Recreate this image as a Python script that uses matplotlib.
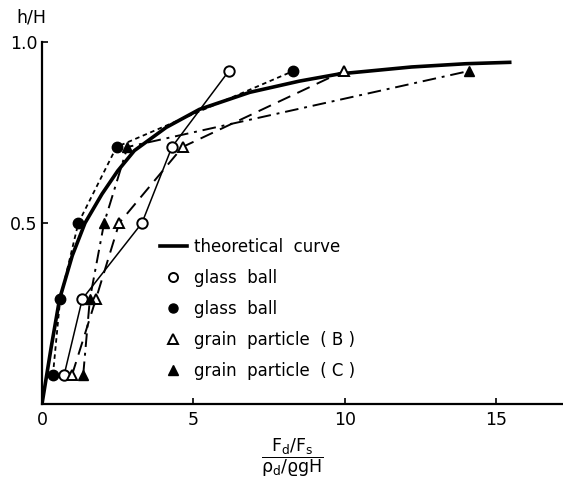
import matplotlib
matplotlib.use("Agg")
import matplotlib.pyplot as plt
from matplotlib.lines import Line2D

plt.rcParams['font.family'] = ['DejaVu Sans']
plt.rcParams['mathtext.fontset'] = 'dejavusans'
plt.rcParams['mathtext.default'] = 'regular'

# theoretical curve
theory_x = [0, 0.3, 0.58, 1.0, 1.42, 1.98, 2.5, 3.05, 4.1, 5.2, 6.86, 8.5, 9.83, 12.2, 14.0, 15.5]
theory_y = [0, 0.155, 0.29, 0.41, 0.5, 0.58, 0.644, 0.70, 0.764, 0.814, 0.861, 0.892, 0.912, 0.931, 0.94, 0.944]

# experimental series
h_levels = [0.08, 0.29, 0.5, 0.71, 0.92]
glass_open_x = [0.73, 1.33, 3.3, 4.29, 6.17]
glass_filled_x = [0.36, 0.6, 1.2, 2.46, 8.3]
grainB_x = [0.99, 1.78, 2.55, 4.64, 9.97]
grainC_x = [1.36, 1.58, 2.05, 2.82, 14.1]

legend_labels = ["theoretical  curve", "glass  ball", "glass  ball",
                 "grain  particle  ( B )", "grain  particle  ( C )"]
xticks = [0, 5, 10, 15]
xtick_labels = ["0", "5", "10", "15"]
yticks = [0.5, 1.0]
ytick_labels = ["0.5", "1.0"]

W, H = 563, 484
fig = plt.figure(figsize=(W / 100, H / 100), dpi=100)
ax = fig.add_axes([42 / W, (H - 404) / H, (W - 42) / W, (404 - 42) / H])
ax.set_xlim(0, 17.2)
ax.set_ylim(0, 1.0)

ax.plot(theory_x, theory_y, color='black', lw=2.6, solid_capstyle='butt', zorder=3)

ms = 7.5
lw = 1.1
ax.plot(glass_open_x, h_levels, color='black', lw=lw, ls='-',
        marker='o', ms=ms, mfc='white', mec='black', mew=1.4, zorder=4)
ax.plot(glass_filled_x, h_levels, color='black', lw=lw + 0.2, ls=(0, (2.5, 2.0)),
        marker='o', ms=ms, mfc='black', mec='black', zorder=4)
ax.plot(grainB_x, h_levels, color='black', lw=lw + 0.3, ls=(0, (7, 4)),
        marker='^', ms=ms, mfc='white', mec='black', mew=1.4, zorder=4)
ax.plot(grainC_x, h_levels, color='black', lw=lw + 0.3, ls=(0, (7, 3, 1.5, 3)),
        marker='^', ms=ms, mfc='black', mec='black', zorder=4)

for s in ['top', 'right']:
    ax.spines[s].set_visible(False)
for s in ['left', 'bottom']:
    ax.spines[s].set_linewidth(1.6)

ax.set_xticks(xticks)
ax.set_xticklabels(xtick_labels)
ax.set_yticks(yticks)
ax.set_yticklabels(ytick_labels)
ax.tick_params(axis='both', direction='in', length=4, width=1.2, labelsize=12.5)
ax.tick_params(axis='x', pad=5)
ax.tick_params(axis='y', pad=3)

handles = [
    Line2D([], [], color='black', lw=2.6),
    Line2D([], [], ls='none', marker='o', ms=6.5, mfc='white', mec='black', mew=1.4),
    Line2D([], [], ls='none', marker='o', ms=6.5, mfc='black', mec='black'),
    Line2D([], [], ls='none', marker='^', ms=6.5, mfc='white', mec='black', mew=1.4),
    Line2D([], [], ls='none', marker='^', ms=6.5, mfc='black', mec='black'),
]
fig.legend(handles, legend_labels, loc='upper left',
           bbox_to_anchor=(160 / W, (H - 238) / H), bbox_transform=fig.transFigure,
           frameon=False, fontsize=12, handlelength=1.6, handletextpad=0.45,
           labelspacing=0.78, borderpad=0, borderaxespad=0)

fig.text(31 / W, (H - 17) / H, "h/H", ha='center', va='center', fontsize=12.5)
fig.text(292 / W, (H - 458) / H, r"$\dfrac{F_d/F_s}{\rho_d/\varrho gH}$",
         ha='center', va='center', fontsize=12.5)

fig.savefig("out.png", dpi=100)
